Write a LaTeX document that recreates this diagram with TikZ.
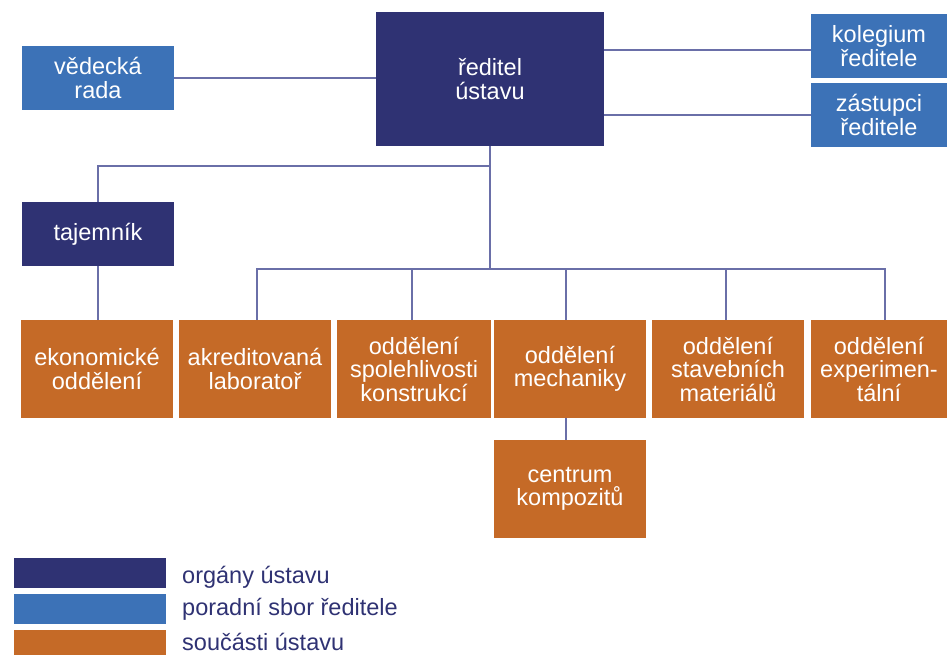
\documentclass[tikz,border=0pt]{standalone}
\usepackage{fontspec}
\setmainfont{Liberation Sans}
\usetikzlibrary{calc}
\definecolor{navy}{HTML}{2F3273}
\definecolor{lblue}{HTML}{3C72B7}
\definecolor{ochre}{HTML}{C56A27}
\definecolor{linec}{HTML}{6A6FA8}
\tikzset{
  box/.style={rectangle, inner sep=0pt, align=center, text=white,
    font=\fontsize{23.5}{23.5}\selectfont},
  organ/.style={box, fill=navy},
  advice/.style={box, fill=lblue},
  part/.style={box, fill=ochre},
  conn/.style={draw=linec, line width=1.3pt},
  legtext/.style={anchor=base west, inner sep=0pt, text=navy,
    font=\fontsize{23.5}{24}\selectfont},
}
\begin{document}
\begin{tikzpicture}[x=1pt,y=-1pt]
\useasboundingbox (0,0) rectangle (947,655);
% top level
\node[organ, minimum width=228pt, minimum height=134pt] (red) at (490,79) {ředitel\\ústavu};
\node[advice, minimum width=152pt, minimum height=64pt] (vr) at (98,78) {vědecká\\rada};
\node[advice, minimum width=136pt, minimum height=64pt] (kol) at (879,46) {kolegium\\ředitele};
\node[advice, minimum width=136pt, minimum height=64pt] (zas) at (879,115) {zástupci\\ředitele};
\node[organ, minimum width=152pt, minimum height=64pt] (taj) at (98,234) {tajemník};
% departments
\node[part, minimum width=152pt, minimum height=98pt] (eko) at (97,369) {ekonomické\\oddělení};
\node[part, minimum width=152pt, minimum height=98pt] (akr) at (255,369) {akreditovaná\\laboratoř};
\node[part, minimum width=154pt, minimum height=98pt] (spo) at (414,369) {oddělení\\spolehlivosti\\konstrukcí};
\node[part, minimum width=152pt, minimum height=98pt] (mech) at (570,369) {oddělení\\mechaniky};
\node[part, minimum width=152pt, minimum height=98pt] (stav) at (728,369) {oddělení\\stavebních\\materiálů};
\node[part, minimum width=136pt, minimum height=98pt] (exp) at (879,369) {oddělení\\experimen-\\tální};
\node[part, minimum width=152pt, minimum height=98pt] (cen) at (570,489) {centrum\\kompozitů};
% connectors
\coordinate (tj) at (490,166);
\coordinate (bus) at (490,269);
\draw[conn] (vr.east) -- (vr.east -| red.west);
\draw[conn] ([yshift=-4pt]kol.west -| red.east) -- ([yshift=-4pt]kol.west);
\draw[conn] (zas.west -| red.east) -- (zas.west);
\draw[conn] (red.south) -- (bus);
\draw[conn] (tj) -| (taj.north);
\draw[conn] (taj.south) -- (taj.south |- eko.north);
\draw[conn] (bus) -| ([xshift=2pt]akr.north);
\draw[conn] (bus) -| ([xshift=-2pt]spo.north);
\draw[conn] (bus) -| ([xshift=-4pt]mech.north);
\draw[conn] (bus) -| ([xshift=-2pt]stav.north);
\draw[conn] (bus) -| ([xshift=6pt]exp.north);
\draw[conn] ([xshift=-4pt]mech.south) -- ([xshift=-4pt]cen.north);
% legend
\node[fill=navy, inner sep=0pt, minimum width=152pt, minimum height=30pt] (l1) at (90,573) {};
\node[fill=lblue, inner sep=0pt, minimum width=152pt, minimum height=30pt] (l2) at (90,609) {};
\node[fill=ochre, inner sep=0pt, minimum width=152pt, minimum height=25pt] (l3) at (90,642.5) {};
\node[legtext] (t1) at (182,583) {orgány ústavu};
\node[legtext] (t2) at (182,615) {poradní sbor ředitele};
\node[legtext] (t3) at (182,650) {součásti ústavu};
\end{tikzpicture}
\end{document}
